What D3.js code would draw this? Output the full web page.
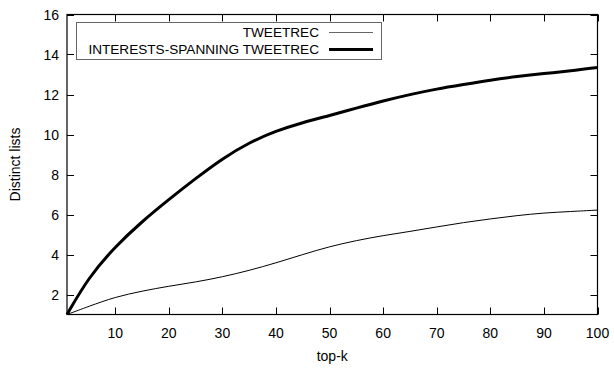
<!DOCTYPE html>
<html><head><meta charset="utf-8">
<script src="https://cdn.jsdelivr.net/npm/d3@7"></script>
<style>body{margin:0;background:#fff}svg{display:block}text{font-family:"Liberation Sans",Arial,sans-serif;fill:#000}</style>
</head><body>
<script>
const topK = [1,5,10,15,20,25,30,35,40,45,50,55,60,65,70,75,80,85,90,95,100];
const tweetrec = [1,1.4,1.88,2.17,2.42,2.62,2.88,3.2,3.58,4.0,4.4,4.7,4.95,5.15,5.38,5.6,5.78,5.95,6.08,6.15,6.22];
const spanning = [1,2.85,4.4,5.65,6.75,7.8,8.8,9.6,10.18,10.6,10.95,11.32,11.68,12.0,12.28,12.5,12.72,12.9,13.05,13.18,13.35];
const xTicks = [10,20,30,40,50,60,70,80,90,100];
const yTicks = [2,4,6,8,10,12,14,16];
const seriesNames = ["TWEETREC","INTERESTS-SPANNING TWEETREC"];

const W=614,H=368, L=67, R=597.5, T=14.5, B=314.5;
const svg=d3.select("body").append("svg").attr("width",W).attr("height",H);
const x=d3.scaleLinear().domain([1,100]).range([L,R]);
const y=d3.scaleLinear().domain([1,16]).range([B,T]);

const g=svg.append("g");
const tl=7;
xTicks.forEach(t=>{
  const px=Math.round(x(t))+0.5;
  g.append("line").attr("x1",px).attr("x2",px).attr("y1",B).attr("y2",B-tl).attr("stroke","#000");
  g.append("line").attr("x1",px).attr("x2",px).attr("y1",T).attr("y2",T+tl).attr("stroke","#000");
  g.append("text").attr("x",x(t)).attr("y",B+23).attr("text-anchor","middle").style("font-size","14px").text(t);
});
yTicks.forEach(t=>{
  const py=Math.round(y(t))+0.5;
  g.append("line").attr("x1",L).attr("x2",L+tl).attr("y1",py).attr("y2",py).attr("stroke","#000");
  g.append("line").attr("x1",R).attr("x2",R-tl).attr("y1",py).attr("y2",py).attr("stroke","#000");
  g.append("text").attr("x",L-8).attr("y",y(t)+5).attr("text-anchor","end").style("font-size","14px").text(t);
});
g.append("rect").attr("x",L).attr("y",T).attr("width",R-L).attr("height",B-T).attr("fill","none").attr("stroke","#000").attr("stroke-width",1.2);

const line=d3.line().x((d,i)=>x(topK[i])).y(d=>y(d)).curve(d3.curveBasis);
svg.append("path").datum(tweetrec).attr("d",line).attr("fill","none").attr("stroke","#000").attr("stroke-width",1);
svg.append("path").datum(spanning).attr("d",line).attr("fill","none").attr("stroke","#000").attr("stroke-width",3);

const lg=svg.append("g");
lg.append("rect").attr("x",76.5).attr("y",22.5).attr("width",305).attr("height",37).attr("fill","#fff").attr("stroke","#666").attr("stroke-width",1);
const rows=[{y:32,w:1,c:"#666"},{y:49,w:3,c:"#000"}];
rows.forEach((r,i)=>{
  lg.append("text").attr("x",319).attr("y",r.y+5).attr("text-anchor","end").style("font-size","13.6px").text(seriesNames[i]);
  lg.append("line").attr("x1",329).attr("x2",373).attr("y1",r.y+0.5).attr("y2",r.y+0.5).attr("stroke",r.c).attr("stroke-width",r.w);
});

svg.append("text").attr("x",(L+R)/2).attr("y",361).attr("text-anchor","middle").style("font-size","14px").text("top-k");
svg.append("text").attr("transform",`translate(20,${(T+B)/2}) rotate(-90)`).attr("text-anchor","middle").style("font-size","14px").text("Distinct lists");
</script>
</body></html>
